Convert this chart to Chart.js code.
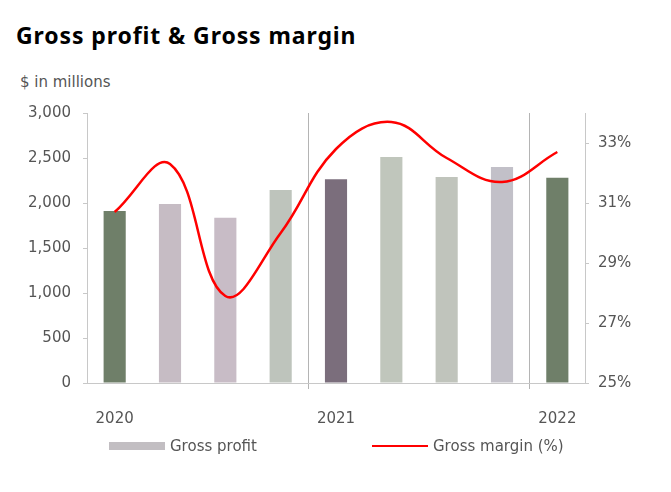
<!DOCTYPE html>
<html>
<head>
<meta charset="utf-8">
<title>Gross profit & Gross margin</title>
<script src="https://cdn.jsdelivr.net/npm/chart.js"></script>
<style>
  body { margin: 0; background: #fff; font-family: "DejaVu Sans", sans-serif; }
  #wrap { position: relative; width: 671px; height: 492px; overflow: hidden; }
  #chart { position: absolute; left: 0; top: 0; }
  .title { position: absolute; left: 16px; top: 19px; font-family: "Noto Sans", sans-serif; font-size: 23px; font-weight: bold; color: #000; letter-spacing: 0.9px; }
  .unit { position: absolute; left: 20px; top: 73px; font-size: 15px; color: #555; }
  .leg { position: absolute; top: 436px; font-size: 15px; color: #555; line-height: 20px; }
  .swatch { position: absolute; width: 56px; height: 8px; top: 442px; background: #c2bec2; }
  .redline { position: absolute; width: 56px; height: 2px; top: 445px; background: #ff0000; }
</style>
</head>
<body>
<div id="wrap">
  <div class="title">Gross profit &amp; Gross margin</div>
  <div class="unit">$ in millions</div>
  <canvas id="chart" width="671" height="492"></canvas>
  <div class="swatch" style="left:109px"></div>
  <div class="leg" style="left:170px">Gross profit</div>
  <div class="redline" style="left:372px"></div>
  <div class="leg" style="left:433px">Gross margin (%)</div>
</div>
<script>
const quarters = ["Q1 2020", "Q2 2020", "Q3 2020", "Q4 2020", "Q1 2021", "Q2 2021", "Q3 2021", "Q4 2021", "Q1 2022"];
const yearLabels = ["2020", "", "", "", "2021", "", "", "", "2022"];
const grossProfit = [1910, 1990, 1835, 2145, 2265, 2510, 2290, 2400, 2280];
const grossMargin = [30.7, 32.3, 27.9, 30.0, 32.8, 33.7, 32.5, 31.7, 32.7];
const profitTicks = [0, 500, 1000, 1500, 2000, 2500, 3000];
const marginTicks = [25, 27, 29, 31, 33];
const yearBreaks = [4, 8];

// first quarter of each year is the dark bar
const barColors = ["#6f7f69", "#c6bcc4", "#c8bcc6", "#bec4bc", "#7b6e7c", "#c0c6bc", "#c0c4bc", "#c2c0c8", "#6f7f69"];

const tickFont = { family: "DejaVu Sans", size: 15 };

const ctx = document.getElementById("chart").getContext("2d");

new Chart(ctx, {
  type: "bar",
  data: {
    labels: yearLabels,
    datasets: [
      {
        type: "line",
        label: "Gross margin (%)",
        data: grossMargin,
        yAxisID: "y1",
        borderColor: "#ff0000",
        borderWidth: 2.5,
        pointRadius: 0,
        tension: 0.4,
        order: 0,
      },
      {
        label: "Gross profit",
        data: grossProfit,
        yAxisID: "y",
        backgroundColor: barColors,
        barPercentage: 0.4,
        categoryPercentage: 1,
        order: 1,
      },
    ],
  },
  options: {
    responsive: false,
    animation: false,
    layout: { padding: { top: 113, left: 0, right: 0, bottom: 0 } },
    plugins: { legend: { display: false }, tooltip: { enabled: false } },
    scales: {
      x: {
        offset: true,
        grid: {
          offset: true,
          drawOnChartArea: true,
          color: (c) => (yearBreaks.includes(c.index) ? "#b4b4b4" : "rgba(0,0,0,0)"),
          tickLength: 6,
        },
        border: { color: "#c8c8c8", width: 1 },
        ticks: { color: "#555", font: tickFont, padding: 21, maxRotation: 0, autoSkip: false },
        afterFit: (s) => { s.height = 109; },
      },
      y: {
        position: "left",
        min: 0,
        max: 3000,
        grid: { drawOnChartArea: false, color: "#c8c8c8", tickLength: 4 },
        border: { color: "#c8c8c8" },
        ticks: {
          color: "#555",
          font: tickFont,
          padding: 12,
          callback: (v) => v.toLocaleString("en-US"),
        },
        afterBuildTicks: (s) => { s.ticks = profitTicks.map((v) => ({ value: v })); },
        afterFit: (s) => { s.width = 87; },
      },
      y1: {
        position: "right",
        min: 25,
        max: 34,
        grid: { drawOnChartArea: false, color: "#c8c8c8", tickLength: 4 },
        border: { color: "#c8c8c8" },
        ticks: {
          color: "#555",
          font: tickFont,
          padding: 9,
          callback: (v) => v + "%",
        },
        afterBuildTicks: (s) => { s.ticks = marginTicks.map((v) => ({ value: v })); },
        afterFit: (s) => { s.width = 86; },
      },
    },
  },
});
</script>
</body>
</html>
